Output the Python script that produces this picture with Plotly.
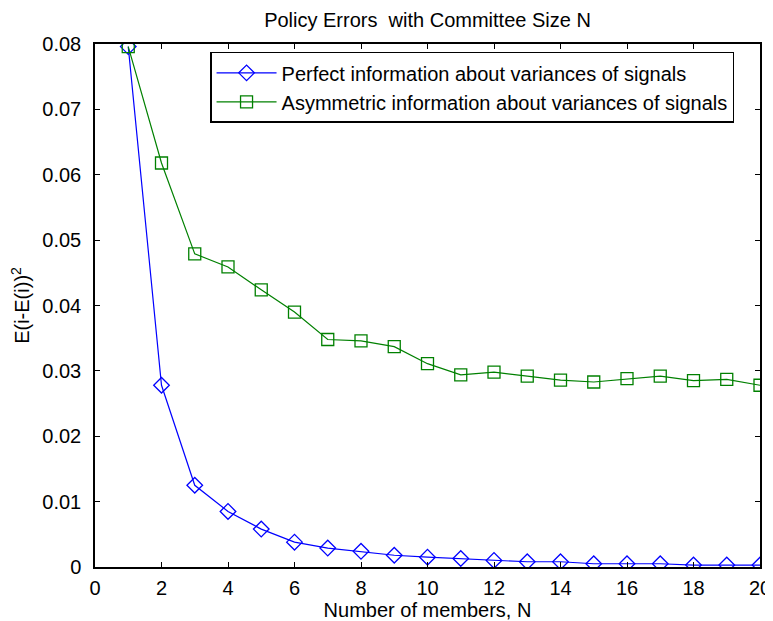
import plotly.graph_objects as go

N = list(range(1, 21))
perfect = [0.0796, 0.0278, 0.0125, 0.0085, 0.0058, 0.0038, 0.0029, 0.0024, 0.0018, 0.0015,
           0.0013, 0.0010, 0.0008, 0.0008, 0.0005, 0.0005, 0.0005, 0.0003, 0.0003, 0.0003]
asym = [0.0796, 0.0618, 0.0479, 0.0459, 0.0424, 0.0390, 0.0348, 0.0346, 0.0337, 0.0311,
        0.0294, 0.0298, 0.0292, 0.0286, 0.0283, 0.0288, 0.0292, 0.0285, 0.0287, 0.0278]

x_ticks = list(range(0, 21, 2))
y_ticks = [0, 0.01, 0.02, 0.03, 0.04, 0.05, 0.06, 0.07, 0.08]
y_labels = ["0", "0.01", "0.02", "0.03", "0.04", "0.05", "0.06", "0.07", "0.08"]

NARROW = "Liberation Sans Narrow, Arial Narrow, Liberation Sans, Arial"
REG = "Liberation Sans, Arial"

fig = go.Figure()
fig.add_trace(go.Scatter(x=N, y=perfect, mode="lines+markers",
                         name="Perfect information about variances of signals",
                         line=dict(color="#0000FF", width=1.2),
                         marker=dict(symbol="diamond-open", size=12, color="#0000FF", line=dict(width=1.3))))
fig.add_trace(go.Scatter(x=N, y=asym, mode="lines+markers",
                         name="Asymmetric information about variances of signals",
                         line=dict(color="#008000", width=1.2),
                         marker=dict(symbol="square-open", size=12, color="#008000", line=dict(width=1.3))))

axis_common = dict(showgrid=False, zeroline=False, showline=True, linecolor="black", linewidth=1.5,
                   mirror="ticks", ticks="inside", ticklen=5, tickcolor="black", tickwidth=1,
                   automargin=False,
                   tickfont=dict(family=REG, size=20, color="black"))

# page body has an 8px margin; figure sized/offset to compensate
fig.update_layout(
    width=765, height=613,
    margin=dict(l=87, r=13, t=36, b=54),
    paper_bgcolor="white", plot_bgcolor="white",
    font=dict(family=NARROW, size=20, color="black"),
    title=dict(text="Policy Errors  with Committee Size N", x=(87 + 665 / 2) / 765, xanchor="center",
               y=1 - 12 / 613, yanchor="middle", font=dict(family=NARROW, size=20, color="black")),
    xaxis=dict(range=[0, 20], tickvals=x_ticks, ticklabelstandoff=2, ticklabeloverflow="allow",
               title=dict(text="Number of members, N", standoff=2, font=dict(family=NARROW, size=20)),
               **axis_common),
    yaxis=dict(range=[0, 0.08], tickvals=y_ticks, ticktext=y_labels, ticklabelstandoff=8,
               title=dict(text="E(i-E(i))<sup>2</sup>", standoff=10, font=dict(family=NARROW, size=20)),
               **axis_common),
    legend=dict(x=0.173, y=0.985, xanchor="left", yanchor="top", bgcolor="white",
                bordercolor="black", borderwidth=1.5, font=dict(family=NARROW, size=20, color="black"),
                itemwidth=60),
    showlegend=True,
)

fig.write_html("out.html")
